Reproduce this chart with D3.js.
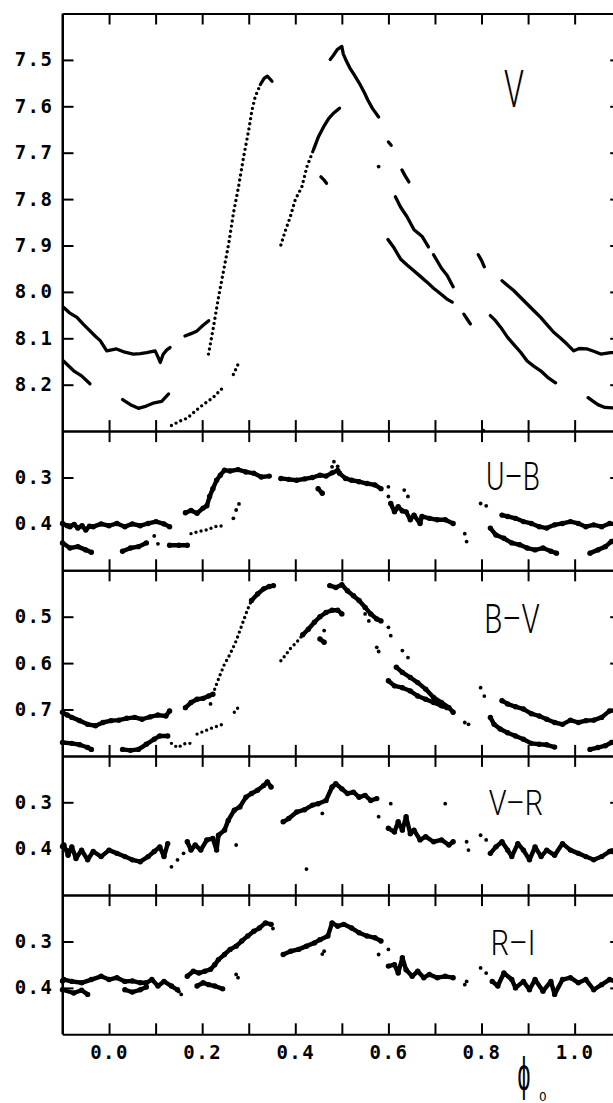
<!DOCTYPE html>
<html>
<head>
<meta charset="utf-8">
<script src="https://cdn.jsdelivr.net/npm/d3@7"></script>
<style>
  body { margin: 0; background: #fff; }
  svg { display: block; }
  .tick text { font-family: "DejaVu Sans Mono", monospace; font-size: 19px; font-weight: bold; letter-spacing: 1.5px; fill: #000; }
  .lbl { font-family: Roboto, "Liberation Sans", sans-serif; font-weight: 300; fill: #000; }
</style>
</head>
<body>
<svg width="613" height="1103"></svg>
<script>
// phase ticks on the shared x axis
const phaseTicks = [0, 0.1, 0.2, 0.3, 0.4, 0.5, 0.6, 0.7, 0.8, 0.9, 1.0, 1.1];
const phaseLabels = [0, 0.2, 0.4, 0.6, 0.8, 1.0];

// panels, top to bottom
const panelNames = ["V", "U\u2013B", "B\u2013V", "V\u2013R", "R\u2013I"];
const panelDomains = [[7.4, 8.3], [0.2, 0.5], [0.4, 0.8], [0.2, 0.5], [0.2, 0.5]];
const panelTicks = [
  [7.5, 7.6, 7.7, 7.8, 7.9, 8.0, 8.1, 8.2],
  [0.3, 0.4],
  [0.5, 0.6, 0.7],
  [0.3, 0.4],
  [0.3, 0.4],
];

// ---- V ----
const vLines = [
  [[-0.098,8.033],[-0.085,8.045],[-0.069,8.055],[-0.055,8.070],[-0.041,8.084],[-0.030,8.095],[-0.019,8.105],[-0.005,8.127],[0.016,8.123],[0.034,8.130],[0.052,8.134],[0.067,8.133],[0.081,8.131],[0.099,8.127],[0.105,8.140],[0.110,8.152],[0.116,8.135],[0.124,8.125],[0.131,8.120]],
  [[0.163,8.095],[0.176,8.090],[0.189,8.084],[0.202,8.072],[0.214,8.062]],
  [[-0.098,8.149],[-0.076,8.170],[-0.059,8.181],[-0.041,8.198]],
  [[0.029,8.232],[0.046,8.243],[0.063,8.251],[0.080,8.246],[0.097,8.239],[0.113,8.236],[0.128,8.220]],
  [[0.475,7.499],[0.482,7.490],[0.490,7.478],[0.500,7.471],[0.503,7.487],[0.510,7.503],[0.517,7.517],[0.527,7.533],[0.538,7.551],[0.549,7.572],[0.556,7.587],[0.566,7.605],[0.579,7.623]],
  [[0.615,7.795],[0.626,7.817],[0.640,7.838],[0.655,7.866],[0.672,7.880],[0.686,7.903]],
  [[0.697,7.920],[0.714,7.949],[0.726,7.964],[0.739,7.989]],
  [[0.599,7.887],[0.612,7.905],[0.626,7.929],[0.640,7.942],[0.654,7.954],[0.668,7.966],[0.683,7.979],[0.697,7.992],[0.712,8.004],[0.725,8.015],[0.737,8.022]],
  [[0.844,7.976],[0.856,7.986],[0.869,7.997],[0.884,8.012],[0.898,8.026],[0.912,8.040],[0.927,8.055],[0.940,8.070],[0.955,8.087],[0.970,8.100],[0.984,8.113],[0.998,8.127],[1.010,8.122],[1.027,8.123],[1.041,8.128],[1.056,8.134],[1.077,8.131],[1.100,8.130]],
  [[0.819,8.051],[0.830,8.062],[0.841,8.076],[0.856,8.098],[0.869,8.113],[0.884,8.130],[0.898,8.149],[0.912,8.160],[0.927,8.170],[0.942,8.184],[0.959,8.196]],
  [[1.029,8.228],[1.040,8.236],[1.050,8.243],[1.065,8.249],[1.081,8.250],[1.100,8.250]],
  [[0.439,7.694],[0.450,7.665],[0.461,7.644],[0.472,7.626],[0.482,7.615],[0.495,7.604]],
  [[0.325,7.553],[0.333,7.540],[0.340,7.535],[0.350,7.546]],
  [[0.455,7.752],[0.461,7.758],[0.467,7.766]],
  [[0.629,7.737],[0.636,7.750],[0.644,7.763]],
  [[0.600,7.677],[0.606,7.684]],
  [[0.762,8.048],[0.770,8.060],[0.776,8.069]],
  [[0.793,7.920],[0.800,7.932],[0.806,7.946]],
];
const vDotted = [
  [[0.2136,8.134],[0.224,8.077],[0.235,8.012],[0.246,7.954],[0.257,7.896],[0.267,7.831],[0.278,7.774],[0.289,7.709],[0.300,7.651],[0.307,7.608],[0.314,7.579],[0.325,7.553]],
  [[0.369,7.899],[0.378,7.870],[0.389,7.839],[0.400,7.801],[0.414,7.774],[0.425,7.730],[0.439,7.694]],
  [[0.134,8.288],[0.151,8.279],[0.168,8.272],[0.185,8.257],[0.202,8.243],[0.223,8.228],[0.244,8.207]],
  [[0.267,8.178],[0.279,8.152]],
];
const vDots = [[0.804,8.299],[0.579,7.730]];

// ---- U-B ----
const ubLines = [
  [[-0.100,0.399],[-0.090,0.404],[-0.084,0.406],[-0.075,0.401],[-0.067,0.409],[-0.058,0.404],[-0.050,0.413],[-0.042,0.405],[-0.034,0.406],[-0.017,0.400],[0.000,0.404],[0.017,0.399],[0.034,0.406],[0.050,0.400],[0.067,0.404],[0.084,0.399],[0.101,0.395],[0.118,0.400],[0.130,0.406]],
  [[-0.100,0.441],[-0.084,0.452],[-0.067,0.449],[-0.050,0.456],[-0.038,0.461]],
  [[0.029,0.459],[0.046,0.452],[0.063,0.449],[0.080,0.441]],
  [[0.130,0.446],[0.150,0.446],[0.168,0.446]],
  [[0.164,0.376],[0.176,0.371],[0.189,0.377],[0.202,0.366],[0.210,0.361],[0.216,0.341],[0.223,0.324],[0.231,0.306],[0.239,0.295],[0.248,0.284],[0.260,0.286],[0.277,0.283],[0.294,0.288],[0.311,0.291],[0.327,0.299],[0.344,0.297]],
  [[0.369,0.302],[0.386,0.304],[0.403,0.306],[0.420,0.303],[0.437,0.300],[0.453,0.295],[0.466,0.297],[0.479,0.290],[0.491,0.285],[0.495,0.291],[0.508,0.302],[0.521,0.306],[0.537,0.309],[0.554,0.313],[0.571,0.316],[0.584,0.324]],
  [[0.449,0.324],[0.458,0.334]],
  [[0.605,0.356],[0.613,0.374],[0.621,0.363],[0.630,0.372],[0.638,0.374],[0.647,0.391],[0.655,0.381],[0.668,0.399],[0.672,0.384],[0.688,0.388],[0.705,0.391],[0.722,0.391],[0.739,0.399]],
  [[0.819,0.409],[0.831,0.424],[0.848,0.431],[0.865,0.441],[0.882,0.445],[0.898,0.452],[0.915,0.456],[0.932,0.452],[0.949,0.459],[0.961,0.463]],
  [[0.844,0.381],[0.856,0.384],[0.873,0.388],[0.890,0.395],[0.907,0.399],[0.924,0.406],[0.940,0.409],[0.957,0.402],[0.974,0.399],[0.991,0.395],[1.008,0.399],[1.024,0.406],[1.041,0.402],[1.058,0.406],[1.075,0.399],[1.100,0.402]],
  [[1.033,0.463],[1.050,0.456],[1.066,0.449],[1.079,0.438],[1.100,0.430]],
];
const ubDotted = [
  [[0.176,0.421],[0.193,0.416],[0.210,0.413],[0.227,0.406],[0.244,0.404]],
];
const ubDots = [[0.479,0.277],[0.483,0.266],[0.491,0.276],[0.600,0.341],[0.600,0.320],[0.634,0.327],[0.642,0.341],[0.764,0.421],[0.768,0.438],[0.798,0.356],[0.810,0.361],[0.097,0.426],[0.105,0.443],[0.267,0.388],[0.273,0.370],[0.279,0.357]];

// ---- B-V ----
const bvLines = [
  [[-0.100,0.706],[-0.090,0.712],[-0.080,0.717],[-0.063,0.724],[-0.046,0.732],[-0.029,0.735],[-0.013,0.728],[0.004,0.724],[0.021,0.723],[0.038,0.719],[0.055,0.717],[0.071,0.721],[0.088,0.716],[0.105,0.712],[0.122,0.714],[0.130,0.703]],
  [[-0.100,0.771],[-0.080,0.773],[-0.063,0.776],[-0.046,0.782],[-0.038,0.786]],
  [[0.029,0.786],[0.046,0.788],[0.063,0.786],[0.080,0.775],[0.097,0.764],[0.109,0.757],[0.126,0.757]],
  [[0.164,0.696],[0.176,0.685],[0.189,0.678],[0.202,0.676],[0.214,0.671],[0.223,0.667]],
  [[0.306,0.465],[0.319,0.451],[0.332,0.440],[0.344,0.435],[0.353,0.433]],
  [[0.416,0.539],[0.428,0.527],[0.441,0.512],[0.453,0.500],[0.466,0.491],[0.479,0.486],[0.491,0.486],[0.500,0.494]],
  [[0.453,0.548],[0.462,0.555]],
  [[0.474,0.433],[0.487,0.437],[0.500,0.431],[0.512,0.444],[0.525,0.455],[0.537,0.465],[0.550,0.480],[0.562,0.494],[0.575,0.505],[0.584,0.509]],
  [[0.617,0.609],[0.630,0.620],[0.647,0.631],[0.663,0.642],[0.680,0.656],[0.697,0.674],[0.714,0.685],[0.730,0.696],[0.739,0.706]],
  [[0.600,0.638],[0.613,0.649],[0.630,0.653],[0.647,0.660],[0.663,0.671],[0.680,0.678],[0.697,0.685],[0.714,0.692],[0.726,0.696]],
  [[0.844,0.681],[0.856,0.688],[0.873,0.694],[0.890,0.699],[0.907,0.709],[0.924,0.714],[0.940,0.721],[0.957,0.728],[0.974,0.732],[0.991,0.723],[1.008,0.728],[1.024,0.724],[1.041,0.723],[1.058,0.717],[1.075,0.703],[1.100,0.700]],
  [[0.819,0.717],[0.827,0.732],[0.840,0.742],[0.856,0.750],[0.873,0.757],[0.890,0.764],[0.907,0.773],[0.924,0.775],[0.940,0.776],[0.957,0.781]],
  [[1.033,0.786],[1.050,0.782],[1.066,0.778],[1.079,0.771],[1.100,0.765]],
];
const bvDotted = [
  [[0.134,0.773],[0.147,0.782],[0.164,0.773],[0.176,0.773]],
  [[0.189,0.753],[0.206,0.746],[0.223,0.739],[0.244,0.732]],
  [[0.269,0.706],[0.273,0.701],[0.279,0.694]],
  [[0.223,0.667],[0.231,0.645],[0.239,0.624],[0.248,0.602],[0.256,0.588],[0.265,0.570],[0.273,0.552],[0.281,0.530],[0.290,0.505],[0.298,0.483],[0.306,0.465]],
  [[0.369,0.595],[0.378,0.584],[0.390,0.568],[0.403,0.555],[0.416,0.539]],
];
const bvDots = [[0.462,0.530],[0.218,0.688],[0.550,0.494],[0.558,0.509],[0.575,0.566],[0.579,0.575],[0.600,0.523],[0.605,0.541],[0.630,0.573],[0.642,0.588],[0.764,0.728],[0.772,0.732],[0.798,0.653],[0.806,0.671]];

// ---- V-R ----
const vrLines = [
  [[-0.100,0.395],[-0.097,0.392],[-0.088,0.414],[-0.080,0.396],[-0.071,0.421],[-0.059,0.403],[-0.046,0.424],[-0.034,0.406],[-0.017,0.417],[0.000,0.403],[0.017,0.410],[0.034,0.417],[0.050,0.424],[0.067,0.428],[0.084,0.417],[0.097,0.406],[0.109,0.396],[0.118,0.417],[0.126,0.389]],
  [[0.168,0.385],[0.176,0.403],[0.185,0.392],[0.197,0.403],[0.210,0.381],[0.223,0.378],[0.231,0.403],[0.235,0.371],[0.248,0.360],[0.256,0.339],[0.269,0.317],[0.281,0.310],[0.294,0.289],[0.306,0.281],[0.319,0.274],[0.332,0.264],[0.340,0.256],[0.348,0.267]],
  [[0.374,0.342],[0.386,0.335],[0.403,0.321],[0.420,0.316],[0.437,0.306],[0.449,0.303],[0.466,0.296],[0.479,0.267],[0.487,0.260],[0.500,0.271],[0.512,0.281],[0.525,0.278],[0.537,0.289],[0.550,0.285],[0.562,0.296],[0.575,0.292]],
  [[0.600,0.356],[0.613,0.364],[0.621,0.342],[0.630,0.360],[0.638,0.331],[0.647,0.368],[0.655,0.360],[0.668,0.381],[0.680,0.374],[0.697,0.385],[0.714,0.381],[0.730,0.392],[0.739,0.385]],
  [[0.819,0.410],[0.831,0.396],[0.844,0.385],[0.856,0.403],[0.865,0.417],[0.878,0.389],[0.890,0.403],[0.903,0.424],[0.915,0.396],[0.928,0.417],[0.940,0.403],[0.957,0.414],[0.974,0.389],[0.991,0.403],[1.008,0.410],[1.024,0.417],[1.041,0.424],[1.058,0.417],[1.075,0.406],[1.100,0.410]],
];
const vrDotted = [];
const vrDots = [[0.134,0.439],[0.147,0.424],[0.160,0.410],[0.273,0.392],[0.458,0.324],[0.579,0.331],[0.605,0.303],[0.722,0.303],[0.424,0.444],[0.768,0.385],[0.772,0.403],[0.798,0.371],[0.810,0.381]];

// ---- R-I ----
const riLines = [
  [[-0.100,0.385],[-0.097,0.382],[-0.080,0.386],[-0.059,0.389],[-0.038,0.382],[-0.017,0.375],[0.000,0.382],[0.017,0.378],[0.034,0.386],[0.050,0.385],[0.067,0.389],[0.080,0.389],[0.092,0.382],[0.105,0.396],[0.118,0.386],[0.134,0.396],[0.147,0.404]],
  [[-0.100,0.404],[-0.076,0.411],[-0.059,0.405],[-0.046,0.414]],
  [[0.034,0.404],[0.050,0.409],[0.067,0.404],[0.080,0.398]],
  [[0.168,0.375],[0.181,0.364],[0.193,0.368],[0.206,0.364],[0.218,0.360],[0.227,0.350],[0.235,0.339],[0.248,0.328],[0.260,0.317],[0.273,0.310],[0.285,0.299],[0.298,0.288],[0.311,0.278],[0.323,0.271],[0.336,0.260],[0.348,0.263]],
  [[0.189,0.396],[0.202,0.389],[0.214,0.393],[0.227,0.396],[0.244,0.402]],
  [[0.374,0.328],[0.390,0.321],[0.407,0.317],[0.424,0.310],[0.441,0.303],[0.453,0.296],[0.470,0.288],[0.479,0.260],[0.491,0.267],[0.504,0.263],[0.521,0.271],[0.537,0.281],[0.554,0.288],[0.571,0.292],[0.584,0.299]],
  [[0.600,0.353],[0.613,0.350],[0.621,0.368],[0.630,0.335],[0.638,0.361],[0.651,0.375],[0.663,0.364],[0.676,0.378],[0.688,0.371],[0.705,0.378],[0.722,0.375],[0.739,0.378]],
  [[0.823,0.386],[0.835,0.396],[0.848,0.368],[0.865,0.382],[0.873,0.400],[0.890,0.386],[0.903,0.404],[0.915,0.382],[0.932,0.407],[0.949,0.386],[0.957,0.414],[0.974,0.382],[0.991,0.378],[1.008,0.389],[1.024,0.382],[1.041,0.404],[1.058,0.393],[1.075,0.382],[1.100,0.390]],
];
const riDotted = [];
const riDots = [[0.155,0.414],[0.150,0.408],[0.273,0.371],[0.277,0.378],[0.352,0.272],[0.462,0.321],[0.458,0.327],[0.579,0.328],[0.600,0.317],[0.768,0.386],[0.764,0.393],[0.798,0.357],[0.810,0.368]];

const panelLines = [vLines, ubLines, bvLines, vrLines, riLines];
const panelDotted = [vDotted, ubDotted, bvDotted, vrDotted, riDotted];
const panelDots = [vDots, ubDots, bvDots, vrDots, riDots];

const svg = d3.select("svg");
const plotLeft = 62.5;
const plotRight = 621.2;
const plotTop = 13.5;
const perUnit = 464; // px per magnitude

const x = d3.scaleLinear().domain([-0.1, 1.1]).range([plotLeft, plotRight]);

// panel y scales stacked one below the other
let y0 = plotTop;
const yScales = panelDomains.map((dom) => {
  const h = (dom[1] - dom[0]) * perUnit;
  const s = d3.scaleLinear().domain(dom).range([y0, y0 + h]);
  y0 += h;
  return s;
});
const plotBottom = y0;

const axisStyle = (g) => {
  g.selectAll("path, line").attr("stroke", "#000").attr("stroke-width", 2);
};

const plot = svg.append("g");

yScales.forEach((y, i) => {
  const g = plot.append("g");
  const lineGen = d3.line().x((d) => x(d[0])).y((d) => y(d[1]));
  const noisy = i > 0;

  g.selectAll("path.run")
    .data(panelLines[i])
    .enter()
    .append("path")
    .attr("class", "run")
    .attr("d", lineGen)
    .attr("fill", "none")
    .attr("stroke", "#000")
    .attr("stroke-width", noisy ? 4.4 : 3.3)
    .attr("stroke-linejoin", "round")
    .attr("stroke-linecap", "round");

  // measured points along the noisy colour-index runs
  if (noisy) {
    g.selectAll("circle.pt")
      .data(panelLines[i].flat())
      .enter()
      .append("circle")
      .attr("class", "pt")
      .attr("cx", (d) => x(d[0]))
      .attr("cy", (d) => y(d[1]))
      .attr("r", 2.7)
      .attr("fill", "#000");
  }

  g.selectAll("path.dotted")
    .data(panelDotted[i])
    .enter()
    .append("path")
    .attr("class", "dotted")
    .attr("d", lineGen)
    .attr("fill", "none")
    .attr("stroke", "#000")
    .attr("stroke-width", 3.4)
    .attr("stroke-linecap", "round")
    .attr("stroke-dasharray", "0,5.2");

  g.selectAll("circle.dot")
    .data(panelDots[i])
    .enter()
    .append("circle")
    .attr("class", "dot")
    .attr("cx", (d) => x(d[0]))
    .attr("cy", (d) => y(d[1]))
    .attr("r", 1.9)
    .attr("fill", "#000");

  // y ticks, left side with labels, right side blank
  svg.append("g")
    .attr("transform", `translate(${plotLeft},0)`)
    .call(d3.axisLeft(y).tickValues(panelTicks[i]).tickSizeInner(-11).tickSizeOuter(0)
      .tickPadding(9).tickFormat(d3.format(".1f")))
    .call(axisStyle);
  svg.append("g")
    .attr("transform", `translate(${plotRight},0)`)
    .call(d3.axisRight(y).tickValues(panelTicks[i]).tickSizeInner(-11).tickSizeOuter(0).tickFormat(""))
    .call(axisStyle);
});

// horizontal frame lines with phase ticks
const edges = [plotTop].concat(yScales.map((s) => s.range()[1]));
edges.forEach((ey, j) => {
  if (j < edges.length - 1) {
    svg.append("g")
      .attr("transform", `translate(0,${ey})`)
      .call(d3.axisBottom(x).tickValues(phaseTicks).tickSizeInner(11).tickSizeOuter(0).tickFormat(""))
      .call(axisStyle);
  }
  if (j > 0) {
    svg.append("g")
      .attr("transform", `translate(0,${ey})`)
      .call(d3.axisTop(x).tickValues(phaseTicks).tickSizeInner(11).tickSizeOuter(0).tickFormat(""))
      .call(axisStyle);
  }
});

// phase labels under the bottom frame
svg.append("g")
  .attr("transform", `translate(0,${plotBottom})`)
  .call(d3.axisBottom(x).tickValues(phaseLabels).tickSize(0).tickPadding(11).tickFormat(d3.format(".1f")))
  .call((g) => g.select(".domain").remove());

svg.selectAll(".tick text").attr("font-family", null).attr("font-size", null);

// left frame line
svg.append("line")
  .attr("x1", plotLeft).attr("x2", plotLeft)
  .attr("y1", plotTop).attr("y2", plotBottom)
  .attr("stroke", "#000").attr("stroke-width", 2);

// panel names
const labelPos = [[514, 107, 52, 0.62], [513, 489.5, 39, 0.72], [512, 633, 41, 0.72], [516, 815, 36, 0.8], [513, 955, 36, 0.8]];
panelNames.forEach((name, i) => {
  const p = labelPos[i];
  svg.append("text")
    .attr("class", "lbl")
    .attr("transform", `translate(${p[0]},${p[1]}) scale(${p[3]},1)`)
    .attr("text-anchor", "middle")
    .attr("font-size", p[2])
    .text(name);
});

// phase axis title
svg.append("text")
  .attr("class", "lbl")
  .attr("transform", "translate(524,1090) scale(0.5,1)")
  .attr("text-anchor", "middle")
  .attr("font-family", "DejaVu Sans")
  .attr("font-size", 46)
  .text("\u03d5");
svg.append("text")
  .attr("x", 539)
  .attr("y", 1101)
  .attr("font-family", "DejaVu Sans")
  .attr("font-size", 12)
  .text("0");
</script>
</body>
</html>
